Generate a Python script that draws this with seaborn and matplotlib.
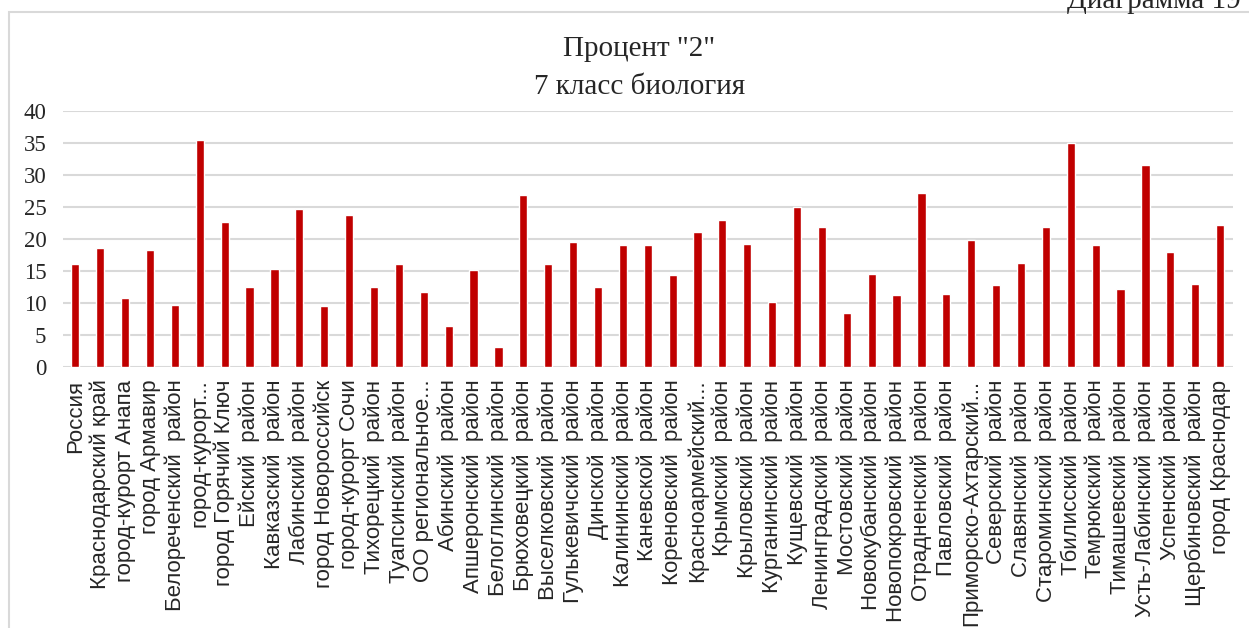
import seaborn as sns
import matplotlib.pyplot as plt
from matplotlib.patches import Rectangle

# data
regions = [
    "Россия", "Краснодарский край", "город-курорт Анапа", "город Армавир",
    "Белореченский  район", "город-курорт...", "город Горячий Ключ",
    "Ейский  район", "Кавказский  район", "Лабинский  район",
    "город Новороссийск", "город-курорт Сочи", "Тихорецкий  район",
    "Туапсинский  район", "ОО региональное...", "Абинский  район",
    "Апшеронский  район", "Белоглинский  район", "Брюховецкий  район",
    "Выселковский  район", "Гулькевичский  район", "Динской  район",
    "Калининский  район", "Каневской  район", "Кореновский  район",
    "Красноармейский...", "Крымский  район", "Крыловский  район",
    "Курганинский  район", "Кущевский  район", "Ленинградский  район",
    "Мостовский  район", "Новокубанский  район", "Новопокровский  район",
    "Отрадненский  район", "Павловский  район", "Приморско-Ахтарский...",
    "Северский  район", "Славянский  район", "Староминский  район",
    "Тбилисский  район", "Темрюкский  район", "Тимашевский  район",
    "Усть-Лабинский  район", "Успенский  район", "Щербиновский  район",
    "город Краснодар",
]
percent_2 = [
    16.0, 18.5, 10.8, 18.2, 9.6, 35.4, 22.6, 12.5, 15.3, 24.7,
    9.5, 23.7, 12.5, 16.1, 11.7, 6.4, 15.1, 3.2, 26.8, 16.0,
    19.5, 12.5, 19.1, 19.0, 14.3, 21.1, 23.0, 19.2, 10.2, 24.9,
    21.8, 8.5, 14.5, 11.2, 27.1, 11.4, 19.9, 12.8, 16.2, 21.9,
    34.9, 19.0, 12.2, 31.6, 17.9, 12.9, 22.1,
]
y_ticks = [0, 5, 10, 15, 20, 25, 30, 35, 40]

sns.set_style('white')

fig = plt.figure(figsize=(12.49, 6.28), dpi=100)
ax = fig.add_axes([0.0504, 0.4156, 0.9364, 0.4081])

sns.barplot(x=regions, y=percent_2, color='#C00000', saturation=1,
            width=0.33, ax=ax)

ax.set_ylim(0, 40)
ax.set_xlim(-0.5, len(regions) - 0.5)
ax.set_yticks(y_ticks)
ax.set_yticklabels([str(t) for t in y_ticks], family='Liberation Serif',
                   fontsize=16.5)
ax.tick_params(axis='y', length=0, pad=12)
ax.tick_params(axis='x', length=0, pad=9)
plt.setp(ax.get_xticklabels(), rotation=90, family='Liberation Sans',
         fontsize=16)

ax.yaxis.grid(True, color='#D9D9D9', linewidth=1.5)
ax.set_axisbelow(True)
sns.despine(ax=ax, left=True, top=True, right=True, bottom=True)

# two-line title
fig.text(0.512, 1 - 49 / 628, 'Процент "2"', ha='center', va='center',
         family='Liberation Serif', fontsize=21)
fig.text(0.512, 1 - 87 / 628, '7 класс биология', ha='center', va='center',
         family='Liberation Serif', fontsize=21)

# chart-area border and the cut-off caption above it
fig.patches.append(Rectangle((9 / 1249, -0.01), 1.0, 1 - 12 / 628 + 0.01,
                             transform=fig.transFigure, fill=False,
                             edgecolor='#D9D9D9', linewidth=1.5))
fig.text(0.993, 1 - 8 / 628, 'Диаграмма 19', ha='right', va='baseline',
         family='Liberation Serif', fontsize=21)

fig.savefig('out.png', dpi=100)
